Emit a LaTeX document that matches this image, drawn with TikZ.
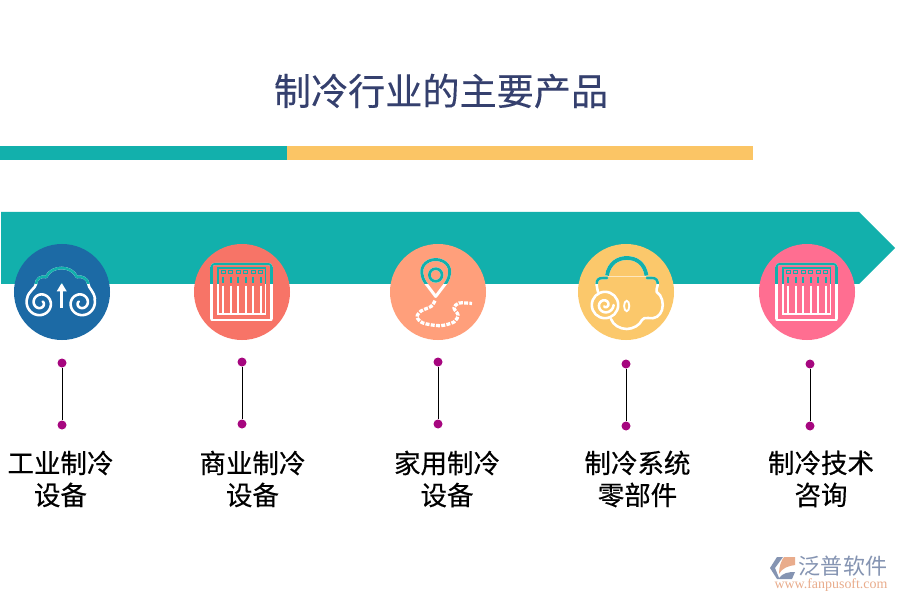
\documentclass[tikz,border=0pt]{standalone}
\usepackage{fontspec}
\newfontfamily\cjk[FakeBold=0.45]{Noto Sans CJK SC}
\newfontfamily\cjkt[FakeBold=0.25]{Noto Sans CJK SC}
\newfontfamily\cjkl{Noto Sans CJK SC}
\newfontfamily\urlfont{Liberation Serif}
\definecolor{teal0}{HTML}{12B0AC}
\definecolor{gold0}{HTML}{FBC565}
\definecolor{blue0}{HTML}{1C6AA5}
\definecolor{coral0}{HTML}{F77467}
\definecolor{peach0}{HTML}{FF9F7B}
\definecolor{yellow0}{HTML}{FBC86B}
\definecolor{pink0}{HTML}{FF6E91}
\definecolor{titlec}{HTML}{35406E}
\definecolor{dotc}{HTML}{A6067F}
\definecolor{logog}{HTML}{8594B2}
\definecolor{logoo}{HTML}{E9AC8C}
\tikzset{
  disc/.style={circle,minimum size=2.88cm,inner sep=0pt,fill=#1},
  pin/.style={circle,minimum size=0.27cm,inner sep=0pt,fill=dotc},
  stem/.style={draw=black,line width=0.85pt},
  lab/.style={font=\cjk\fontsize{22.6pt}{27.3pt}\selectfont,align=center,text=black,inner sep=0pt},
  ic/.style={line width=2.2pt,line cap=round,line join=round}
}
% spiral: centre x,y, radius, direction sign, start angle, colour, sweep
\newcommand\spiralic[7]{%
  \draw[ic,#6] plot[smooth,domain=0:#7,samples=60] ({#1+#3*(1-\x/(#7*1.22))*cos(#5+#4*\x)},{#2+#3*(1-\x/(#7*1.22))*sin(#5+#4*\x)});}
\newcommand\barcodeic[2]{%
  \begin{scope}[xshift=#1*0.03cm]
    \draw[ic,#2,line width=2.4pt] (211.7,319) -- (211.7,267);
    \draw[ic,#2,line width=2.4pt] (271.3,319) -- (271.3,267);
    \draw[ic,#2,line width=1.8pt] (211.7,267) .. controls (211.7,264.5) and (213,264) .. (215,264) -- (268,264) .. controls (270,264) and (271.3,264.5) .. (271.3,267);
    \draw[ic,#2,line width=2.4pt] (211.7,320) -- (271.3,320);
    \draw[#2,line width=1.2pt] (218,268) rectangle (265.5,314);
    \foreach \xx in {223.3,230.7,238.3,245.7,253.3,260.7}{
      \draw[#2,line width=1pt] (\xx-1.8,270.2) rectangle (\xx+1.8,273.8);
      \draw[#2,line width=1.7pt] (\xx,277) -- (\xx,283);
      \draw[#2,line width=1.7pt] (\xx,285.7) -- (\xx,313);
    }
  \end{scope}}
\newcommand\allicons[1]{%
  % cloud
  \draw[ic,#1] (36,284) .. controls (36,279) and (41,275.5) .. (46,277)
     .. controls (49,271) and (55,268) .. (61.7,268)
     .. controls (68,268) and (74,271) .. (77,277)
     .. controls (82,275.5) and (88,279) .. (88.3,284);
  \draw[ic,#1] (36,284) .. controls (36,288) and (28,291) .. (27,299);
  \draw[ic,#1] (88.3,284) .. controls (88.3,288) and (94,291) .. (95,299);
  \spiralic{40.5}{303}{14.2}{-1}{-163}{#1}{590}
  \spiralic{81}{303}{14.2}{1}{-17}{#1}{590}
  \draw[#1,line width=2.6pt] (61.7,308) -- (61.7,290);
  \fill[#1] (61.7,283) -- (66.8,291.5) -- (56.6,291.5) -- cycle;
  \barcodeic{0}{#1}
  \barcodeic{565}{#1}
  % location pin
  \draw[ic,#1,line width=2.5pt] (435.7,296.5) -- (425.5,283) .. controls (416,268) and (426,259.5) .. (435.7,259.5)
     .. controls (445.4,259.5) and (455.4,268) .. (446,283) -- cycle;
  \draw[#1,line width=2.4pt] (435.7,275) circle (6.3);
  \draw[#1,line width=2.8pt,dash pattern=on 3.4pt off 1.1pt] plot[smooth] coordinates {(435,300.7) (431,306.5) (421,311) (417,317) (423,323) (440,325.7) (454,322) (458,315) (454,308) (459,303) (472,303.5)};
  % bag handle
  \draw[#1,line width=3.3pt] (607,275.5) .. controls (609,263) and (618,258) .. (626.7,258)
     .. controls (636,258) and (644.5,263) .. (646.5,275.5);
  \draw[white,opacity=.35,line width=1pt] (608,276.2) -- (646,276.2);
  % bag body
  \draw[ic,#1] (596.7,285) .. controls (596.5,280) and (598,278) .. (603,278) -- (607,278);
  \draw[ic,#1] (647,278) -- (652,278) .. controls (656,278) and (658,280) .. (657.7,285)
     .. controls (657,288) and (656,290) .. (656.7,292)
     .. controls (662,295) and (664,304) .. (662,310)
     .. controls (660,316) and (655,319.5) .. (648,318)
     .. controls (645,318) and (643,318) .. (642,320)
     .. controls (640,325) and (633,329) .. (626.7,329)
     .. controls (620,329) and (613,325) .. (611,319);
  \draw[ic,#1] (596.7,285) .. controls (597,288) and (597.5,290) .. (598,292);
  \draw[ic,#1] (605,305) circle (13.2);
  \spiralic{605}{305}{8.6}{1}{0}{#1}{480}
  \draw[#1,line width=1.6pt] (626.7,306) ellipse (2.6 and 5.2);
}
\begin{document}
\begin{tikzpicture}[x=0.03cm,y=-0.03cm]
\useasboundingbox (0,0) rectangle (900,600);
\fill[white] (0,0) rectangle (900,600);
\node[font=\cjkt\fontsize{31.7pt}{36pt}\selectfont,text=titlec,inner sep=0pt] (title) at (441,91) {制冷行业的主要产品};
\fill[teal0] (0,146) rectangle (287,160);
\fill[gold0] (287,146) rectangle (753,160);
\fill[teal0] (1,212) -- (859,212) -- (895,248) -- (859,284) -- (1,284) -- cycle;
\node[disc=blue0] (c1) at (62,292) {};
\node[disc=coral0] (c2) at (242,292) {};
\node[disc=peach0] (c3) at (438,292) {};
\node[disc=yellow0] (c4) at (626,292) {};
\node[disc=pink0] (c5) at (807,292) {};
\allicons{white}
\begin{scope}
  \clip (0,200) rectangle (900,284);
  \allicons{teal0}
\end{scope}
\node[pin] (a1) at (62,363) {};  \node[pin] (b1) at (62,425) {};
\node[pin] (a2) at (242,362) {}; \node[pin] (b2) at (242,424) {};
\node[pin] (a3) at (438,362) {}; \node[pin] (b3) at (438,424) {};
\node[pin] (a4) at (626,364) {}; \node[pin] (b4) at (626,426) {};
\node[pin] (a5) at (810,364) {}; \node[pin] (b5) at (810,426) {};
\foreach \i in {1,...,5} \draw[stem] (a\i) -- (b\i);
\node[lab] (t1) at (60.5,479) {工业制冷\\设备};
\node[lab] (t2) at (252.5,479) {商业制冷\\设备};
\node[lab] (t3) at (447,479) {家用制冷\\设备};
\node[lab] (t4) at (637.5,479) {制冷系统\\零部件};
\node[lab] (t5) at (821,479) {制冷技术\\咨询};
% logo
\fill[logog] (777,557) -- (770,568) -- (777,579) -- (792,579) -- (795,572) .. controls (788,572) and (783,573) .. (779,578) -- (775,568) -- (783,557) -- cycle;
\fill[logoo] (784,557) -- (795,557) -- (795,565) .. controls (788,566) and (782,568) .. (779,574) .. controls (779,567) and (781,561) .. (784,557) -- cycle;
\node[font=\cjkl\fontsize{18.8pt}{20pt}\selectfont,text=logog,inner sep=0pt] (lg) at (843,566) {泛普软件};
\node[font=\urlfont\fontsize{11.9pt}{13pt}\selectfont,text=logoo,inner sep=0pt] (lu) at (831,585) {www.fanpusoft.com};
\end{tikzpicture}
\end{document}
